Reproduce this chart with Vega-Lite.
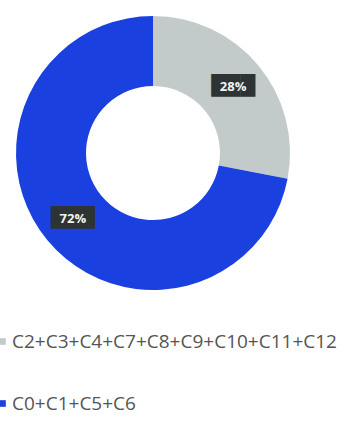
{
  "$schema": "https://vega.github.io/schema/vega-lite/v6.json",
  "width": 306,
  "height": 306,
  "autosize": "none",
  "padding": {"left": 0, "top": 0, "right": 46, "bottom": 117},
  "background": "#ffffff",
  "data": {
    "values": [
      {"group": "C2+C3+C4+C7+C8+C9+C10+C11+C12", "share": 28, "label": "28%", "rank": 1},
      {"group": "C0+C1+C5+C6", "share": 72, "label": "72%", "rank": 2}
    ]
  },
  "encoding": {
    "theta": {"field": "share", "type": "quantitative", "stack": true},
    "order": {"field": "rank", "type": "quantitative"},
    "color": {
      "field": "group",
      "type": "nominal",
      "scale": {
        "domain": ["C2+C3+C4+C7+C8+C9+C10+C11+C12", "C0+C1+C5+C6"],
        "range": ["#c3cbca", "#1a40e0"]
      },
      "legend": {
        "title": null,
        "orient": "none",
        "legendX": -7,
        "legendY": 332,
        "padding": 0,
        "symbolType": "square",
        "symbolSize": 44,
        "symbolStrokeWidth": 0,
        "labelFont": "Open Sans",
        "labelFontSize": 19,
        "labelColor": "#555555",
        "labelOffset": 0,
        "labelLimit": 400,
        "rowPadding": 42
      }
    }
  },
  "layer": [
    {
      "mark": {"type": "arc", "outerRadius": 137, "innerRadius": 67}
    },
    {
      "mark": {"type": "text", "radius": 104, "text": "███", "fontSize": 19, "font": "DejaVu Sans", "baseline": "middle", "align": "center", "dy": -1},
      "encoding": {"color": {"value": "#2e3434"}}
    },
    {
      "mark": {"type": "text", "radius": 104, "fontSize": 13, "fontWeight": "bold", "font": "Open Sans", "baseline": "middle", "align": "center"},
      "encoding": {
        "text": {"field": "label"},
        "color": {"value": "#f2f2f2"}
      }
    }
  ]
}
